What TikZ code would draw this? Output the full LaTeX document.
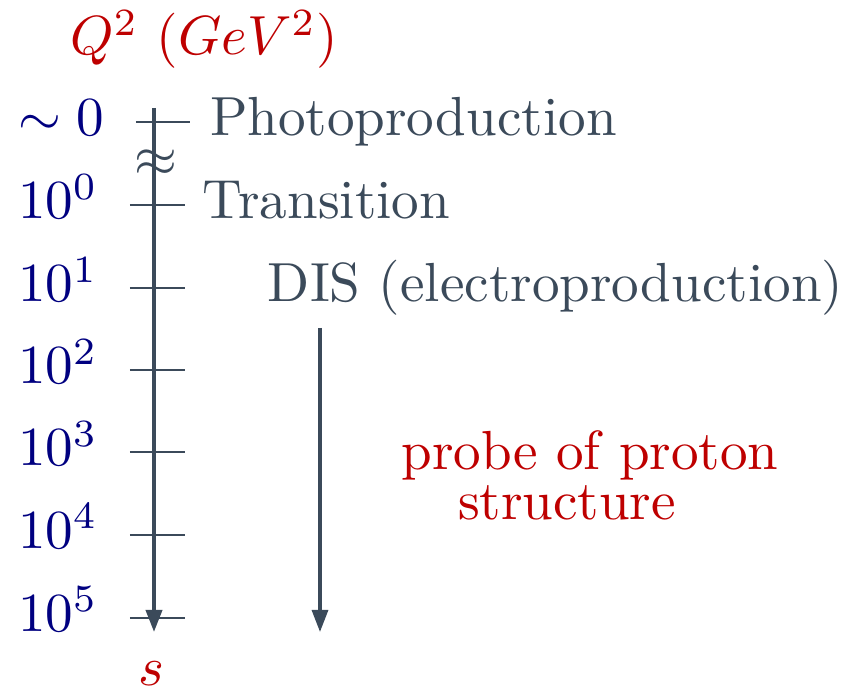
\documentclass[tikz,border=0pt]{standalone}
\usetikzlibrary{arrows.meta}
\definecolor{axisgray}{RGB}{59,74,90}
\definecolor{labblue}{RGB}{0,0,128}
\definecolor{labred}{RGB}{190,0,0}
\begin{document}
\begin{tikzpicture}[x=0.1815pt,y=-0.1815pt,
  lab/.style={inner sep=0pt,outer sep=0pt},
  qval/.style={lab,anchor=base west,text=labblue},
  regime/.style={lab,anchor=base west,text=axisgray},
  redtxt/.style={lab,anchor=base,text=labred},
  axisline/.style={draw=axisgray,line width=0.7pt,-{Triangle[length=4pt,width=2.9pt]}},
  tick/.style={draw=axisgray,line width=0.4pt}]
\useasboundingbox (0,0) rectangle (857,692);
% title
\node[redtxt] (title) at (204,55) {$Q^2~(GeV^2)$};
% axis
\coordinate (atop) at (154,108);
\coordinate (abot) at (154,632);
\draw[axisline] (atop) -- (abot);
% ticks
\coordinate (t0a) at (136,122); \coordinate (t0b) at (190,122);
\draw[tick] (t0a) -- (t0b);
\foreach \i/\y in {1/205,2/288,3/370,4/452,5/535,6/618}{
  \coordinate (ta\i) at (130,\y); \coordinate (tb\i) at (185,\y);
  \draw[tick] (ta\i) -- (tb\i);
}
% break mark
\node[lab,text=axisgray] (brk) at (156,163) {$\approx$};
% value labels
\node[qval] (v0) at (18,136) {$\sim 0$};
\node[qval] (v1) at (18,219) {$10^0$};
\node[qval] (v2) at (18,302) {$10^1$};
\node[qval] (v3) at (18,384) {$10^2$};
\node[qval] (v4) at (18,466) {$10^3$};
\node[qval] (v5) at (18,549) {$10^4$};
\node[qval] (v6) at (18,632) {$10^5$};
% regimes
\node[regime] (photo) at (210,136) {Photoproduction};
\node[regime] (trans) at (203,219) {Transition};
\node[regime] (dis) at (268,302) {DIS (electroproduction)};
% second arrow
\coordinate (btop) at (320,328);
\coordinate (bbot) at (320,632);
\draw[axisline,line width=0.6pt] (btop) -- (bbot);
% red texts
\node[redtxt] (probe) at (590,470) {probe of proton};
\node[redtxt] (struct) at (567,520) {structure};
\node[redtxt] (s) at (151,686) {$s$};
\end{tikzpicture}
\end{document}
